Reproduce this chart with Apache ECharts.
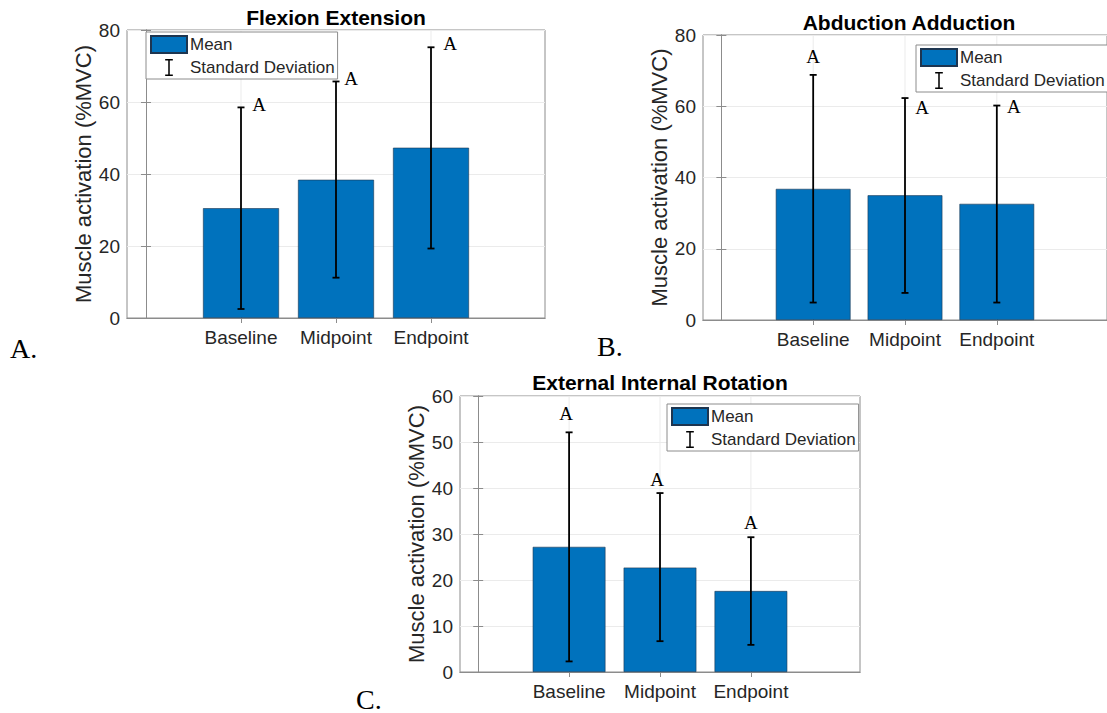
<!DOCTYPE html>
<html>
<head>
<meta charset="utf-8">
<script src="https://cdn.jsdelivr.net/npm/echarts@6/dist/echarts.min.js"></script>
<style>
html,body{margin:0;padding:0;background:#fff;}
#chart{width:1107px;height:713px;}
</style>
</head>
<body>
<div id="chart"></div>
<script>
// ---- data ----
const categories = ['Baseline', 'Midpoint', 'Endpoint'];
const titles = ['Flexion Extension', 'Abduction Adduction', 'External Internal Rotation'];
const panelLetters = ['A.', 'B.', 'C.'];
const yAxisName = 'Muscle activation (%MVC)';
const legendNames = ['Mean', 'Standard Deviation'];
const sigLetter = 'A';

const flexMean = [30.5, 38.4, 47.3];
const flexLow  = [2.5, 11.2, 19.3];
const flexHigh = [58.5, 65.7, 75.2];

const abdMean = [36.8, 35.0, 32.6];
const abdLow  = [4.9, 7.6, 4.9];
const abdHigh = [68.8, 62.3, 60.2];

const rotMean = [27.2, 22.7, 17.6];
const rotLow  = [2.3, 6.7, 5.9];
const rotHigh = [52.1, 38.9, 29.3];

const yTicksAB = [0, 20, 40, 60, 80];
const yTicksC  = [0, 10, 20, 30, 40, 50, 60];

// ---- layout / style ----
const SANS = '"Liberation Sans", Arial, Helvetica, sans-serif';
const SERIF = '"Liberation Serif", "Times New Roman", serif';
const BAR_COLOR = '#0072BD';
const AXIS_COLOR = '#8c8c8c';
const GRID_COLOR = '#ebebeb';
const TEXT_COLOR = '#262626';
const IBEAM = 'path://M0,0H9V1.8H5.4V18.2H9V20H0V18.2H3.6V1.8H0Z';

const panels = [
  { mean: flexMean, low: flexLow, high: flexHigh, ticks: yTicksAB,
    grid: { left: 127, top: 30, right: 562, bottom: 395 }, plotW: 418,
    nameGap: 30, legend: [146, 32], titlePos: [336, 17], letterPos: [10, 348],
    sigOffsets: [[18, -3], [15, -3], [19, -4]] },
  { mean: abdMean, low: abdLow, high: abdHigh, ticks: yTicksAB,
    grid: { left: 703, top: 35, right: -7, bottom: 393 }, plotW: 411,
    nameGap: 30, legend: [916, 45], titlePos: [909, 22], letterPos: [597, 346],
    sigOffsets: [[0, -18], [17, 9], [17, 1]] },
  { mean: rotMean, low: rotLow, high: rotHigh, ticks: yTicksC,
    grid: { left: 460, top: 396, right: 247, bottom: 41 }, plotW: 400,
    nameGap: 30, legend: [667, 404], titlePos: [660, 382], letterPos: [356, 699],
    sigOffsets: [[-3, -19], [-3, -14], [0, -15]] }
];

const catPos = categories.map((c, j) => j + 1);

const option = {
  animation: false,
  backgroundColor: '#fff',
  grid: [], xAxis: [], yAxis: [], series: [], legend: [], graphic: []
};

panels.forEach((p, i) => {
  option.grid.push(Object.assign({ show: true, borderColor: AXIS_COLOR, borderWidth: 1, backgroundColor: '#fff' }, p.grid));
  const yMax = p.ticks[p.ticks.length - 1];
  const yInt = p.ticks[1] - p.ticks[0];
  // bottom x axis
  option.xAxis.push({
    type: 'value', gridIndex: i, min: -0.2, max: 4.2, position: 'bottom',
    axisLine: { show: true, lineStyle: { color: AXIS_COLOR, width: 1 } },
    axisTick: { show: true, inside: true, length: 5, customValues: catPos, lineStyle: { color: AXIS_COLOR } },
    axisLabel: { show: true, customValues: catPos, margin: 10, fontSize: 19, color: TEXT_COLOR, fontFamily: SANS,
      formatter: v => categories[Math.round(v) - 1] || '' },
    splitLine: { show: false }
  });
  // top x axis (mirror ticks)
  option.xAxis.push({
    type: 'value', gridIndex: i, min: -0.2, max: 4.2, position: 'top',
    axisLine: { show: true, lineStyle: { color: AXIS_COLOR, width: 1 } },
    axisTick: { show: true, inside: true, length: 5, customValues: catPos, lineStyle: { color: AXIS_COLOR } },
    axisLabel: { show: false }, splitLine: { show: false }
  });
  option.yAxis.push({
    type: 'value', gridIndex: i, min: 0, max: yMax, interval: yInt, position: 'left',
    name: yAxisName, nameLocation: 'middle', nameGap: p.nameGap,
    nameTextStyle: { fontSize: 22, color: TEXT_COLOR, fontFamily: SANS },
    axisLine: { show: true, lineStyle: { color: AXIS_COLOR, width: 1 } },
    axisTick: { show: true, inside: true, length: 5, lineStyle: { color: AXIS_COLOR } },
    axisLabel: { fontSize: 19, color: TEXT_COLOR, fontFamily: SANS, margin: 7 },
    splitLine: { show: true, lineStyle: { color: GRID_COLOR, width: 1 } }
  });
  option.yAxis.push({
    type: 'value', gridIndex: i, min: 0, max: yMax, interval: yInt, position: 'right',
    axisLine: { show: true, lineStyle: { color: AXIS_COLOR, width: 1 } },
    axisTick: { show: true, inside: true, length: 5, lineStyle: { color: AXIS_COLOR } },
    axisLabel: { show: false }, splitLine: { show: false }
  });

  const xi = 2 * i, yi = 2 * i;
  // vertical grid lines at category positions
  option.series.push({
    type: 'custom', name: 'vgrid' + i, xAxisIndex: xi, yAxisIndex: yi, silent: true,
    data: catPos.map(x => [x]),
    encode: { x: 0 },
    renderItem: (params, api) => {
      const a = api.coord([api.value(0), 0]);
      const b = api.coord([api.value(0), yMax]);
      return { type: 'line', shape: { x1: a[0], y1: a[1], x2: b[0], y2: b[1] }, style: { stroke: GRID_COLOR, lineWidth: 1 } };
    }, z: 0
  });
  option.series.push({
    type: 'bar', name: legendNames[0], xAxisIndex: xi, yAxisIndex: yi,
    barWidth: 0.8 * p.plotW / 4.4,
    itemStyle: { color: BAR_COLOR, borderColor: '#1d3550', borderWidth: 0.6 },
    data: p.mean.map((v, j) => [catPos[j], v]), z: 2
  });
  option.series.push({
    type: 'custom', name: legendNames[1], xAxisIndex: xi, yAxisIndex: yi,
    itemStyle: { color: '#000' },
    encode: { x: 0, y: [1, 2] },
    data: p.low.map((v, j) => [catPos[j], v, p.high[j]]),
    renderItem: (params, api) => {
      const x = api.value(0);
      const lo = api.coord([x, api.value(1)]);
      const hi = api.coord([x, api.value(2)]);
      const hw = 3.5;
      const st = { stroke: '#000', lineWidth: 1.8, fill: null };
      return { type: 'group', children: [
        { type: 'line', shape: { x1: lo[0], y1: lo[1], x2: hi[0], y2: hi[1] }, style: st },
        { type: 'line', shape: { x1: lo[0] - hw, y1: lo[1], x2: lo[0] + hw, y2: lo[1] }, style: st },
        { type: 'line', shape: { x1: hi[0] - hw, y1: hi[1], x2: hi[0] + hw, y2: hi[1] }, style: st }
      ] };
    }, z: 10
  });
  option.series.push({
    type: 'custom', name: 'sig' + i, xAxisIndex: xi, yAxisIndex: yi, silent: true,
    data: p.high.map((v, j) => [catPos[j], v, j]),
    renderItem: (params, api) => {
      const pt = api.coord([api.value(0), api.value(1)]);
      const off = p.sigOffsets[api.value(2)];
      return { type: 'text', x: pt[0] + off[0], y: pt[1] + off[1],
        style: { text: sigLetter, textAlign: 'center', textVerticalAlign: 'middle', font: '19px ' + SERIF, fill: '#000' } };
    }, z: 11
  });

  option.legend.push({
    orient: 'vertical', left: p.legend[0], top: p.legend[1],
    data: [{ name: legendNames[0], icon: 'rect' }, { name: legendNames[1], icon: IBEAM }],
    itemWidth: 36, itemHeight: 17, itemGap: 5, padding: [3, 3, 3, 4],
    borderColor: AXIS_COLOR, borderWidth: 1, backgroundColor: '#fff', selectedMode: false,
    textStyle: { fontSize: 17, color: TEXT_COLOR, fontFamily: SANS, padding: [0, 0, 0, -2] }
  });

  option.graphic.push({
    type: 'text', x: p.titlePos[0], y: p.titlePos[1],
    style: { text: titles[i], textAlign: 'center', textVerticalAlign: 'middle', font: 'bold 21px ' + SANS, fill: '#000' }
  });
  option.graphic.push({
    type: 'text', x: p.letterPos[0], y: p.letterPos[1],
    style: { text: panelLetters[i], textAlign: 'left', textVerticalAlign: 'middle', font: '28px ' + SERIF, fill: '#000' }
  });
});

const chart = echarts.init(document.getElementById('chart'), null, { renderer: 'svg' });
chart.setOption(option);
</script>
</body>
</html>
